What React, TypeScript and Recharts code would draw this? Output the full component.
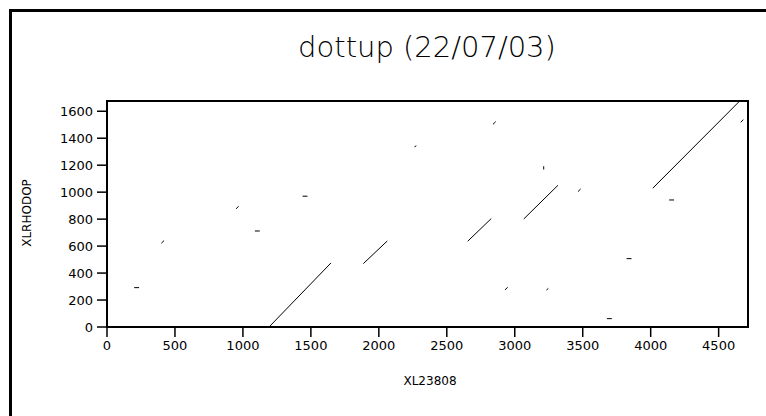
import React from 'react';
import { LineChart, Line, XAxis, YAxis, ReferenceArea } from 'recharts';

// Long diagonal matches: [x1, y1, x2, y2]
const longMatches: number[][] = [
  [1192, 0, 1648, 475],
  [1886, 470, 2062, 638],
  [2654, 636, 2827, 804],
  [3066, 801, 3318, 1051],
  [4015, 1029, 4655, 1676],
];

// Short matches (dots/dashes): [x1, y1, x2, y2]
const shortMatches: number[][] = [
  [200, 292, 236, 292],
  [400, 621, 420, 641],
  [949, 876, 969, 896],
  [1088, 712, 1124, 712],
  [1439, 970, 1475, 970],
  [2262, 1336, 2276, 1344],
  [2840, 1503, 2860, 1523],
  [2928, 275, 2948, 295],
  [3213, 1168, 3213, 1192],
  [3233, 274, 3247, 286],
  [3465, 1004, 3485, 1024],
  [3678, 62, 3714, 62],
  [3823, 507, 3859, 507],
  [4136, 942, 4172, 942],
  [4662, 1518, 4682, 1538],
];

const xTicks = [0, 500, 1000, 1500, 2000, 2500, 3000, 3500, 4000, 4500];
const yTicks = [0, 200, 400, 600, 800, 1000, 1200, 1400, 1600];
const xDomain = [0, 4716];
const yDomain = [0, 1676];

const title = 'dottup (22/07/03)';
const xLabel = 'XL23808';
const yLabel = 'XLRHODOP';

const toData = (s: number[]) => [
  { x: s[0], y: s[1] },
  { x: s[2], y: s[3] },
];

const tickStyle = { fill: '#000', fontSize: 13, fontFamily: 'DejaVu Sans' };

export default function App() {
  const segs = [...longMatches, ...shortMatches];
  return (
    <div style={{ position: 'fixed', left: 0, top: 0, width: 766, height: 416, background: '#fff', overflow: 'hidden' }}>
      <div
        style={{
          position: 'absolute',
          left: 9,
          top: 9,
          width: 766,
          height: 416,
          borderLeft: '3px solid #000',
          borderTop: '3px solid #000',
          boxSizing: 'border-box',
        }}
      />
      <div
        style={{
          position: 'absolute',
          left: 0,
          width: 854,
          top: 30,
          textAlign: 'center',
          fontFamily: 'DejaVu Sans',
          fontWeight: 200,
          fontSize: 29,
          color: '#000',
          lineHeight: '34px',
        }}
      >
        {title}
      </div>
      <div
        style={{
          position: 'absolute',
          left: 0,
          width: 860,
          top: 373,
          textAlign: 'center',
          fontFamily: 'DejaVu Sans',
          fontSize: 12,
          color: '#000',
          lineHeight: '16px',
        }}
      >
        {xLabel}
      </div>
      <div
        style={{
          position: 'absolute',
          left: 27,
          top: 213,
          transform: 'translate(-50%, -50%) rotate(-90deg)',
          fontFamily: 'DejaVu Sans',
          fontSize: 12,
          color: '#000',
          whiteSpace: 'nowrap',
          lineHeight: '14px',
        }}
      >
        {yLabel}
      </div>
      <div style={{ position: 'absolute', left: 0, top: 0 }}>
        <LineChart width={766} height={416} margin={{ top: 101, right: 18, bottom: 59, left: 47 }}>
          <XAxis
            type="number"
            dataKey="x"
            domain={xDomain}
            ticks={xTicks}
            allowDataOverflow
            tick={tickStyle}
            tickSize={10}
            tickMargin={4}
            height={30}
            axisLine={{ stroke: '#000', strokeWidth: 2 }}
            tickLine={{ stroke: '#000', strokeWidth: 1.5 }}
          />
          <YAxis
            type="number"
            domain={yDomain}
            ticks={yTicks}
            allowDataOverflow
            tick={tickStyle}
            tickSize={10}
            tickMargin={4}
            width={60}
            axisLine={{ stroke: '#000', strokeWidth: 2 }}
            tickLine={{ stroke: '#000', strokeWidth: 1.5 }}
          />
          <ReferenceArea
            x1={xDomain[0]}
            x2={xDomain[1]}
            y1={yDomain[0]}
            y2={yDomain[1]}
            fill="none"
            fillOpacity={0}
            stroke="#000"
            strokeWidth={2}
            ifOverflow="visible"
          />
          {segs.map((s, i) => (
            <Line
              key={i}
              data={toData(s)}
              dataKey="y"
              type="linear"
              stroke="#000"
              strokeWidth={1}
              dot={false}
              activeDot={false}
              isAnimationActive={false}
            />
          ))}
        </LineChart>
      </div>
    </div>
  );
}
